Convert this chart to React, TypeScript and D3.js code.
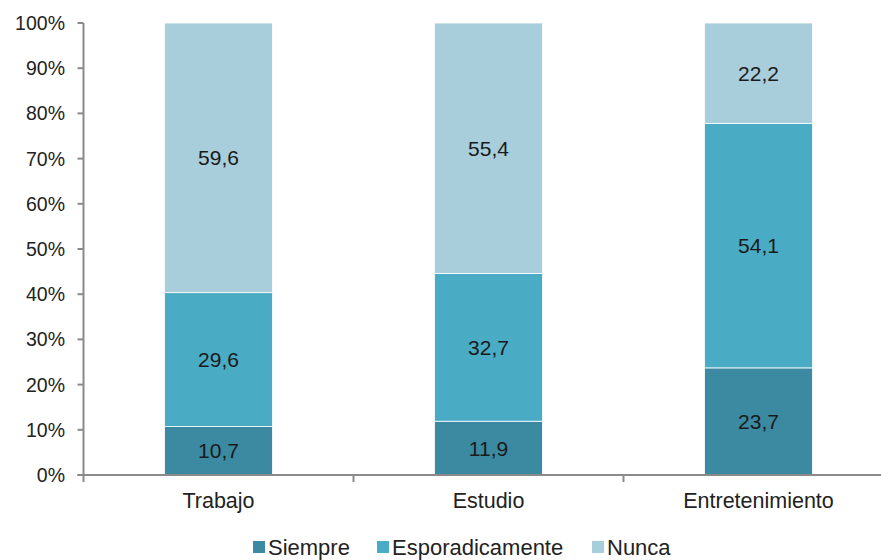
import React from "react";
import * as d3 from "d3";

const categories = ["Trabajo", "Estudio", "Entretenimiento"];
const seriesNames = ["Siempre", "Esporadicamente", "Nunca"];
const siempre = [10.7, 11.9, 23.7];
const esporadicamente = [29.6, 32.7, 54.1];
const nunca = [59.6, 55.4, 22.2];
const yTicks = [0, 10, 20, 30, 40, 50, 60, 70, 80, 90, 100];
const colors = ["#3b8aa1", "#4aabc5", "#a8cedc"];

const W = 881;
const H = 560;
const axisX = 83.5;
const top = 23;
const bottom = 475;

const App = () => {
  const rows = categories.map((c, i) => ({
    category: c,
    Siempre: siempre[i],
    Esporadicamente: esporadicamente[i],
    Nunca: nunca[i],
  }));

  const stacked = d3
    .stack<any>()
    .keys(seriesNames)
    .offset(d3.stackOffsetExpand)(rows);

  const x = d3
    .scaleBand()
    .domain(categories)
    .range([axisX, axisX + 810])
    .paddingInner(0.6)
    .paddingOuter(0.3);

  const y = d3.scaleLinear().domain([0, 1]).range([bottom, top]);

  const font = "Arial, 'Liberation Sans', sans-serif";

  // legend layout
  const legend = [
    { name: "Siempre", x: 253 },
    { name: "Esporadicamente", x: 377 },
    { name: "Nunca", x: 592 },
  ];

  return (
    <svg
      width={W}
      height={H}
      style={{ position: "absolute", left: 0, top: 0, background: "#fff" }}
      fontFamily={font}
    >
      {/* Bars */}
      {stacked.map((s, si) => (
        <g key={s.key} fill={colors[si]}>
          {s.map((d, i) => (
            <rect
              key={i}
              x={x(categories[i])!}
              y={y(d[1])}
              width={x.bandwidth()}
              height={y(d[0]) - y(d[1])}
              stroke="#fff"
              strokeWidth={0.8}
            />
          ))}
        </g>
      ))}

      {/* Value labels */}
      {stacked.map((s, si) =>
        s.map((d, i) => (
          <text
            key={`${si}-${i}`}
            x={x(categories[i])! + x.bandwidth() / 2}
            y={(y(d[0]) + y(d[1])) / 2}
            dy="0.36em"
            textAnchor="middle"
            fontSize={21}
            fill="#1a1a1a"
          >
            {[siempre, esporadicamente, nunca][si][i].toFixed(1).replace(".", ",")}
          </text>
        ))
      )}

      {/* Y axis */}
      <line x1={axisX} x2={axisX} y1={top} y2={bottom} stroke="#8a8a8a" strokeWidth={2} />
      {yTicks.map((t) => (
        <g key={t}>
          <line
            x1={axisX - 6}
            x2={axisX}
            y1={y(t / 100)}
            y2={y(t / 100)}
            stroke="#8a8a8a"
            strokeWidth={2}
          />
          <text
            x={65}
            y={y(t / 100)}
            dy="0.36em"
            textAnchor="end"
            fontSize={19.5}
            fill="#222"
          >
            {t}%
          </text>
        </g>
      ))}

      {/* X axis */}
      <line x1={axisX - 6} x2={W} y1={bottom} y2={bottom} stroke="#8a8a8a" strokeWidth={2} />
      {[0, 1, 2].map((i) => {
        const bx = axisX + i * x.step();
        return (
          <line
            key={i}
            x1={bx}
            x2={bx}
            y1={bottom}
            y2={bottom + 7}
            stroke="#8a8a8a"
            strokeWidth={2}
          />
        );
      })}
      {categories.map((c) => (
        <text
          key={c}
          x={x(c)! + x.bandwidth() / 2}
          y={508}
          textAnchor="middle"
          fontSize={21.5}
          fill="#222"
        >
          {c}
        </text>
      ))}

      {/* Legend */}
      {legend.map((l, i) => (
        <g key={l.name}>
          <rect x={l.x} y={541} width={12} height={12} fill={colors[i]} />
          <text x={l.x + 15} y={554.5} fontSize={22} fill="#222">
            {l.name}
          </text>
        </g>
      ))}
    </svg>
  );
};

export default App;
